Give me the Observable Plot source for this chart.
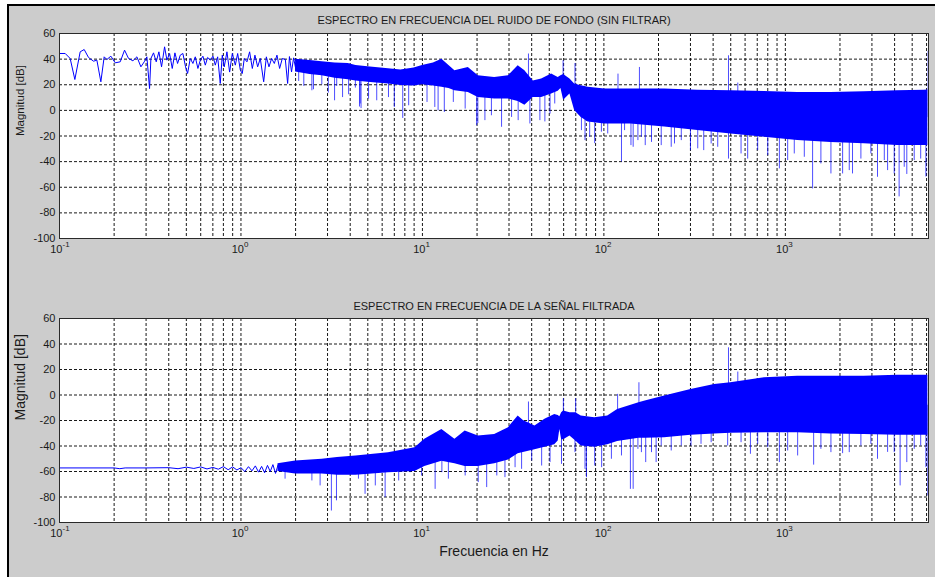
<!DOCTYPE html>
<html><head><meta charset="utf-8">
<script src="https://cdn.jsdelivr.net/npm/d3@7"></script>
<script src="https://cdn.jsdelivr.net/npm/@observablehq/plot@0.6"></script>
<style>
html,body{margin:0;padding:0;background:#fff;width:935px;height:577px;overflow:hidden;}
#fig{position:absolute;left:7px;top:4px;width:928px;height:573px;background:#cccccc;border-left:2px solid #000;border-top:2px solid #000;box-sizing:border-box;}
.p{position:absolute;left:0;}
</style></head><body>
<div id="fig"></div>
<div id="p1" class="p" style="top:0px"></div>
<div id="p2" class="p" style="top:280px"></div>
<script>
// ---------- axis / tick data ----------
const xDomain = [0.1, 6150];
const yDomain = [-100, 60];
const yTicks = [-100, -80, -60, -40, -20, 0, 20, 40, 60];
const yGrid = [-80, -60, -40, -20, 0, 20, 40];
const xDecades = [0.1, 1, 10, 100, 1000];
const xDecadeExp = ["-1", "0", "1", "2", "3"];
const xGrid = [0.2,0.3,0.4,0.5,0.6,0.7,0.8,0.9,1,2,3,4,5,6,7,8,9,10,20,30,40,50,60,70,80,90,100,200,300,400,500,600,700,800,900,1000,2000,3000,4000,5000,6000];

// ---------- top panel: ruido de fondo (sin filtrar) ----------
const topTitle = "ESPECTRO EN FRECUENCIA DEL RUIDO DE FONDO (SIN FILTRAR)";
const topLineF = [0.1,0.1075,0.1145,0.1215,0.130,0.1368,0.1445,0.154,0.1607,0.169,0.1763,0.1824,0.1919,0.2028,0.2161,0.2283,0.2402,0.2538,0.267,0.2809,0.2931,0.3031,0.3135,0.3189,0.3297,0.3412,0.353,0.3651,0.3794,0.3908,0.4043,0.4181,0.4325,0.4474,0.4628,0.4786,0.495,0.508,0.5255,0.5435,0.56,0.579,0.597,0.617,0.636,0.655,0.678,0.701,0.722,0.744,0.769,0.789,0.809,0.837,0.866,0.896,0.931,0.959,0.992,1.017,1.043,1.079,1.116,1.155,1.194,1.236,1.278,1.334,1.38,1.427,1.476,1.527,1.579,1.633,1.69,1.756,1.808,1.85,1.9,1.95,2.0];
const topLineDb = [44.4,44.4,40.5,24.1,45.7,47.5,41.3,38.4,39.2,22.3,41.8,39.7,42.3,37.1,37.9,47.0,40.5,38.7,41.8,34.0,37.9,41.8,17.0,40.5,44.9,37.9,45.7,34.0,49.6,39.2,44.4,32.7,44.9,36.6,43.1,44.4,34.0,28.8,40.5,36.6,41.8,32.7,39.2,42.3,35.3,41.3,39.2,42.3,35.3,41.8,21.0,43.1,34.0,45.7,29.9,44.4,35.3,44.4,31.4,28.8,40.5,37.9,45.7,32.7,43.1,34.0,40.5,22.3,41.8,34.0,40.5,36.6,43.1,32.7,40.5,39.7,21.0,42.0,30.0,41.0,33.0];
const topBandF  = [2.0,2.4,2.8,3.3,3.9,4.3,5.0,6.5,7.6,9.0,10,11.5,12.8,14,15.1,17.9,20.3,25,29.8,33.7,36.7,40.8,45.4,51.5,56,58,60,65,69,75,82,101,125,141,216,329,502,767,1169,1783,2718,4150,5820,6100];
const topBandHi = [40,39,38,37,36.5,35,34,32.5,31.5,33,35,37,40,35,31,33.5,27,25.7,27,34.8,31,23,24.4,28.3,25.7,27,28,24.4,20.5,19.2,18,16.6,16.6,16.6,16.6,15.8,15.3,14.8,14,14,14.5,15.3,15.8,16];
const topBandLo = [30,28,27,25,24,23,22,20.5,19.5,19,20,19,18,17,15.3,14,10,8.8,8.8,7,4,10,10,12.7,15,17,8,12.7,0,-5.5,-9,-10.6,-10.6,-10.6,-13,-15.8,-18.4,-21,-23.6,-25,-26,-27.5,-27.5,-27.5];
const topSpikeF   = [2.08,2.22,2.46,2.51,2.79,3.03,3.28,3.37,3.63,3.92,4.27,4.5,4.54,4.59,5.05,5.6,6.5,7.0,7.79,8.4,10.6,11.7,12.2,13.2,14.8,17.2,19.9,20.2,22.1,24,27.3,31,33.7,38.4,39.1,44.4,47.3,50.5,53.6,59.6,69.3,75.2,78.7,83.5,89,96.9,105,119.6,125,130,141,145,154,157,161,169,183,207,235,245,267,300,329,355,390,424,486,486,547,570,620,704,800,927,1030,1120,1272,1413,1570,1783,2068,2250,2345,2608,2960,3220,3510,3660,3980,4236,4520,4670,5130,5570,5950,6120];
const topSpikeTip = [22.6,18.7,15.3,16.1,20,13.5,7.5,18.7,10,12.2,17.4,2.6,5,1.4,8.8,7.5,10,2.3,-6.3,3.6,6.2,2.3,-0.3,-1.6,6.2,1,-12,-10.3,-8,-4.2,-13.2,-5.5,-8,44,-10.6,-8,-9,-2.9,5,38.7,36.6,-15.8,-23.6,-21,-26,-17,-18.4,28.3,-40.2,-15.8,-27.5,-28.8,-23.6,33.5,-21,-27.5,-25,-27.5,-28.8,-26.2,-23.6,-31.4,-30,-31.4,-26.2,-28.8,42.6,-38,21.3,-34,-38,-31.4,-35.3,-45.7,-39.2,-34,-36.6,-61.3,-41.8,-49.6,-49.6,-47,-49.6,-38,-34,-52.2,-39.2,-47,-49.6,-67.5,-44.4,-50,-39.2,-38,-52,46];

// ---------- bottom panel: señal filtrada ----------
const botTitle = "ESPECTRO EN FRECUENCIA DE LA SEÑAL FILTRADA";
const botLineF  = [0.1,0.2,0.215,0.23,0.3,0.4,0.45,0.5,0.55,0.6,0.65,0.7,0.75,0.8,0.85,0.9,0.95,1.0,1.05,1.1,1.15,1.2,1.25,1.3,1.35,1.4,1.45,1.5,1.55,1.6];
const botLineDb = [-57.2,-57.2,-57.8,-57.2,-57.2,-57.0,-57.8,-56.6,-57.6,-56.4,-58.0,-56.8,-58.2,-56.2,-58.6,-56.4,-58.8,-57.0,-60.0,-56.2,-59.5,-55.6,-60.5,-56.0,-61.0,-55.2,-60.0,-54.6,-61.5,-55.0];
const botBandF  = [1.6,2.0,2.8,3.4,4.3,6.5,9.1,10.3,12.8,15.1,17.2,20.3,25,29.8,33.7,36,41.7,47.3,53.6,56,57.2,58.5,60,65,70,75,89,105,119,156,169,216,302,407,500,767,1169,1783,2718,4150,6000,6100];
const botBandHi = [-54,-51.7,-50.4,-49.1,-47.8,-45.2,-41.3,-34.8,-27,-34.8,-28.3,-32.2,-30.9,-25.6,-16.5,-20,-24.3,-19.1,-15.2,-16,-17,-14,-12.6,-13.9,-14,-16.5,-17.8,-16.5,-11.3,-6,-4.7,-0.8,4.4,8.3,9.6,13.5,14.8,14.8,14.8,15.4,15.4,15.4];
const botBandLo = [-60,-62,-62,-63,-63,-61,-60,-56,-52,-54,-56,-56,-54,-51,-46,-45,-43,-41,-39,-36,-27,-35,-35,-32.2,-36,-40,-41,-39,-36.5,-34,-34,-33.5,-31.5,-30.5,-30,-29.6,-29.6,-30.5,-30.9,-31.5,-31.5,-31.5];
const botSpikeF   = [1.75,2.46,2.73,3.15,3.36,4.44,4.83,5.5,6.23,7.4,8.55,9.9,11.75,12.8,13.9,17.2,20.3,22.6,25.7,28.5,32.4,35.2,38.4,40,45.4,50.5,58.4,59.8,69.3,69.9,78.7,80.2,89,97.2,110,119,125,140,145,154,156,161,170,183,194,207,235,267,302,343,390,481,486,547,570,642,704,800,927,1030,1169,1432,1570,1783,2068,2250,2608,2960,3220,3660,3980,4290,4670,5130,5570,5950,6100];
const botSpikeTip = [-66,-67.4,-71.3,-91,-83,-66,-77.9,-71.3,-80.5,-67.4,-60.9,-63.5,-74,-60.9,-66,-63.5,-68.7,-72.6,-63.5,-64.8,-57,-58.3,-5.5,-51.7,-55.7,-53,-54.4,-2.9,-45.2,-2.9,-58.3,-64.8,-55.7,-57,-50.4,0.5,-47.8,-74,-74,-42.6,9.6,-45.2,-53,-45.2,-53,-40,-43.9,-40,-40,-38.7,-37.4,-40,37,18,-37.4,-46.5,-38.7,-41.3,-53,-43.9,-47.8,-55,-42.6,-45.2,-46,-45.2,-40,-38.7,-50.4,-45,-45.2,-71.3,-53,-42.6,-40,-57,-79.2];

// ---------- helpers ----------
const FONT = "'Liberation Sans', Arial, Helvetica, sans-serif";
const BLUE = "#0000ff";
function zipLine(F, D) { return F.map((f, i) => ({f, db: D[i]})); }
function zipBand(F, H, L) { return F.map((f, i) => ({f, hi: H[i], lo: L[i]})); }
function midAt(f, F, H, L) {
  if (f <= F[0]) return (H[0] + L[0]) / 2;
  const n = F.length - 1;
  if (f >= F[n]) return (H[n] + L[n]) / 2;
  let i = 0; while (F[i + 1] < f) i++;
  const t = (Math.log10(f) - Math.log10(F[i])) / (Math.log10(F[i + 1]) - Math.log10(F[i]));
  return ((H[i] + L[i]) / 2) * (1 - t) + ((H[i + 1] + L[i + 1]) / 2) * t;
}
function zipSpikes(SF, ST, F, H, L) { return SF.map((f, i) => ({f, tip: ST[i], base: midAt(f, F, H, L)})); }

function panel(o) {
  const marks = [
    Plot.frame({fill: "white"}),
    Plot.ruleY(yGrid, {stroke: "#000", strokeWidth: 1, strokeDasharray: "3,2", strokeOpacity: 0.9}),
    Plot.ruleX(xGrid, {stroke: "#000", strokeWidth: 1, strokeDasharray: "3,2", strokeOpacity: 0.9}),
    Plot.areaY(o.band, {x: "f", y1: "lo", y2: "hi", fill: BLUE, curve: "linear"}),
    Plot.ruleX(o.spikes, {x: "f", y1: "tip", y2: "base", stroke: BLUE, strokeWidth: 1, strokeOpacity: 0.7}),
    Plot.line(o.line, {x: "f", y: "db", stroke: BLUE, strokeWidth: 1}),
    Plot.frame({stroke: "#2a2a2a", strokeWidth: 1}),
    Plot.axisY({ticks: yTicks, tickSize: 0, tickPadding: 4, fontSize: 11, tickFormat: d => String(d), label: null}),
    Plot.text(xDecades, {x: d => d, frameAnchor: "bottom", text: () => "10", textAnchor: "end", dx: 3, dy: 11, fontSize: 11, lineAnchor: "middle", fill: "#1a1a1a"}),
    Plot.text(xDecades, {x: d => d, frameAnchor: "bottom", text: (d, i) => xDecadeExp[i], textAnchor: "start", dx: 3, dy: 6, fontSize: 8, lineAnchor: "middle", fill: "#1a1a1a"}),
    Plot.text([o.title], {frameAnchor: "top", dy: o.titleDy, fontSize: 11, lineAnchor: "middle", fill: "#1a1a1a"}),
    Plot.text(["Magnitud [dB]"], {frameAnchor: "left", dx: -39, rotate: -90, fontSize: o.ylabSize, lineAnchor: "middle", fill: "#1a1a1a"})
  ];
  if (o.xlabel) marks.push(Plot.text([o.xlabel], {frameAnchor: "bottom", dy: 29, fontSize: 14, lineAnchor: "middle", fill: "#1a1a1a"}));
  return Plot.plot({
    width: 935, height: o.height,
    marginLeft: 59, marginRight: 7, marginTop: o.mt, marginBottom: o.mb,
    style: {background: "transparent", fontFamily: FONT, fontSize: "11px", color: "#1a1a1a"},
    x: {type: "log", domain: xDomain, axis: null},
    y: {domain: yDomain, axis: null},
    marks
  });
}

document.getElementById("p1").append(panel({
  title: topTitle, titleDy: -13, ylabSize: 11.5, height: 280, mt: 33, mb: 42,
  line: zipLine(topLineF, topLineDb),
  band: zipBand(topBandF, topBandHi, topBandLo),
  spikes: zipSpikes(topSpikeF, topSpikeTip, topBandF, topBandHi, topBandLo)
}));
document.getElementById("p2").append(panel({
  title: botTitle, titleDy: -12, ylabSize: 14, height: 297, mt: 38, mb: 55,
  xlabel: "Frecuencia en Hz",
  line: zipLine(botLineF, botLineDb),
  band: zipBand(botBandF, botBandHi, botBandLo),
  spikes: zipSpikes(botSpikeF, botSpikeTip, botBandF, botBandHi, botBandLo)
}));
</script></body></html>
